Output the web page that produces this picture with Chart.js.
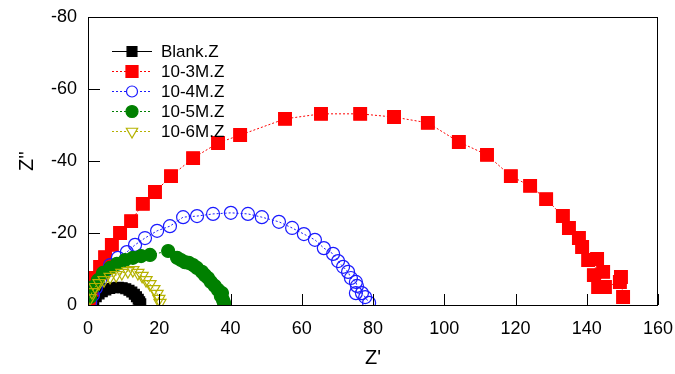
<!DOCTYPE html>
<html>
<head>
<meta charset="utf-8">
<script src="https://cdn.jsdelivr.net/npm/chart.js@4/dist/chart.umd.min.js"></script>
<style>
  html, body { margin: 0; padding: 0; background: #fff; }
  #wrap { width: 675px; height: 374px; }
</style>
</head>
<body>
<div id="wrap"><canvas id="nyquist" width="675" height="374"></canvas></div>
<script>
"use strict";

/* ─── Data (Z' real part, Z'' imaginary part, ohm) ─────────────── */

const X_TICKS = [0, 20, 40, 60, 80, 100, 120, 140, 160];
const Y_TICKS = [-80, -60, -40, -20, 0];

const blankRe = [1.0, 1.6, 2.3, 3.1, 4.0, 5.0, 6.1, 7.3, 8.5, 9.6, 10.6, 11.5, 12.3, 13.0, 13.6, 14.1, 14.5, 14.8];
const blankIm = [-0.6, -1.5, -2.3, -3.1, -3.7, -4.2, -4.6, -4.8, -4.9, -4.8, -4.5, -4.1, -3.6, -3.0, -2.3, -1.6, -0.9, -0.3];

const m3Re = [0.6, 1.1, 2.2, 3.4, 4.8, 6.7, 9.0, 12.1, 15.4, 18.8, 23.3, 29.5, 36.5, 42.7, 55.3, 65.4, 76.4, 85.9,
  95.4, 104.1, 112.0, 118.7, 124.1, 128.6, 133.3, 135.0, 137.8, 138.7, 140.4, 142.9, 142.0, 144.6, 143.2, 145.1,
  149.3, 149.6, 150.2];
const m3Im = [-0.8, -4.2, -7.5, -10.6, -13.3, -16.7, -20.0, -23.3, -28.1, -31.4, -35.8, -40.8, -45.0, -47.2, -51.7,
  -53.1, -53.1, -52.2, -50.6, -45.3, -41.7, -35.8, -33.1, -29.4, -24.7, -21.4, -18.6, -16.1, -12.5, -12.8, -8.3,
  -9.2, -5.0, -5.0, -6.4, -7.8, -2.2];

const m4Re = [0.6, 1.4, 2.2, 3.4, 4.5, 6.2, 8.4, 10.9, 13.2, 16.0, 19.4, 23.0, 26.7, 30.6, 35.1, 40.1, 44.9, 48.8,
  53.6, 57.3, 60.6, 63.7, 66.2, 68.8, 70.2, 71.6, 73.0, 73.8, 75.2, 75.5, 75.2, 76.9, 77.8, 78.9];
const m4Im = [-0.8, -2.8, -4.7, -6.9, -8.9, -11.1, -13.1, -14.7, -16.7, -18.6, -20.6, -21.9, -24.4, -24.7, -25.3,
  -25.6, -25.3, -24.4, -23.1, -21.4, -19.7, -18.1, -15.8, -14.2, -12.2, -10.6, -9.2, -7.5, -6.4, -5.3, -3.3, -3.3,
  -2.2, -0.6];

const m5Re = [0.6, 1.4, 2.8, 4.2, 6.2, 8.1, 10.4, 12.6, 14.9, 17.4, 22.5, 25.0, 26.1, 27.2, 28.3, 29.5, 30.6, 32.0,
  32.8, 33.7, 34.5, 35.6, 36.5, 37.3, 37.6, 37.9, 38.2];
const m5Im = [-2.2, -5.0, -6.9, -8.9, -10.3, -11.4, -12.5, -13.1, -13.6, -13.9, -15.0, -13.1, -12.5, -11.9, -11.7,
  -11.1, -10.3, -9.2, -8.3, -7.5, -6.4, -5.3, -4.2, -2.5, -3.3, -1.4, -0.6];

const m6Re = [0.6, 1.1, 2.0, 3.1, 4.5, 6.2, 7.9, 9.5, 11.2, 12.6, 14.0, 15.2, 16.3, 17.4, 18.5, 19.4, 19.9, 20.2];
const m6Im = [-1.9, -3.6, -5.0, -6.1, -6.9, -7.8, -8.3, -8.9, -9.4, -9.7, -8.9, -8.1, -6.9, -5.8, -4.4, -3.1, -1.7, -0.6];

/* ─── Helpers ──────────────────────────────────────────────────── */

/* Zips two arrays into {x, y} points */
function toPoints(re, im) {
  return re.map(function (v, i) {
    return { x: v, y: im[i] };
  });
}

const FONT = "'Liberation Sans', Arial, sans-serif";

const SERIES = [
  { label: "Blank.Z", re: blankRe, im: blankIm, color: "#000000", fill: "#000000",
    style: "rect", radius: 7, legendRadius: 7, rotation: 0, dash: [] },
  { label: "10-3M.Z", re: m3Re, im: m3Im, color: "#ff0000", fill: "#ff0000",
    style: "rect", radius: 9, legendRadius: 8.5, rotation: 0, dash: [2, 2] },
  { label: "10-4M.Z", re: m4Re, im: m4Im, color: "#1a1aff", fill: "rgba(0,0,0,0)",
    style: "circle", radius: 6.5, legendRadius: 5.5, rotation: 0, dash: [2, 2] },
  { label: "10-5M.Z", re: m5Re, im: m5Im, color: "#008000", fill: "#008000",
    style: "circle", radius: 6.5, legendRadius: 6, rotation: 0, dash: [2, 2] },
  { label: "10-6M.Z", re: m6Re, im: m6Im, color: "#b5b200", fill: "rgba(0,0,0,0)",
    style: "triangle", radius: 7, legendRadius: 6.5, rotation: 180, dash: [2, 2] },
];

/* ─── Plugins ──────────────────────────────────────────────────── */

/* Frame around the plot plus inward-pointing ticks */
const framePlugin = {
  id: "frame",
  afterDatasetsDraw: function (chart) {
    const ctx = chart.ctx;
    const a = chart.chartArea;
    const xs = chart.scales.x;
    const ys = chart.scales.y;
    ctx.save();
    ctx.strokeStyle = "#000";
    ctx.lineWidth = 1;
    ctx.strokeRect(a.left + 0.5, a.top + 0.5, a.right - a.left - 1, a.bottom - a.top);
    ctx.beginPath();
    X_TICKS.forEach(function (v) {
      const px = Math.round(xs.getPixelForValue(v)) + 0.5;
      ctx.moveTo(px, a.bottom);
      ctx.lineTo(px, a.bottom - 11);
    });
    Y_TICKS.forEach(function (v) {
      const py = Math.round(ys.getPixelForValue(v)) + 0.5;
      ctx.moveTo(a.left, py);
      ctx.lineTo(a.left + 12, py);
    });
    ctx.stroke();
    ctx.restore();
  },
};

/* Legend inside the plot: line sample with marker, then label */
const legendPlugin = {
  id: "innerLegend",
  afterDraw: function (chart) {
    const ctx = chart.ctx;
    ctx.save();
    SERIES.forEach(function (s, i) {
      const y = 51 + i * 20;
      ctx.strokeStyle = s.color;
      ctx.lineWidth = 1;
      ctx.setLineDash(s.dash);
      ctx.beginPath();
      ctx.moveTo(112, y + 0.5);
      ctx.lineTo(152, y + 0.5);
      ctx.stroke();
      ctx.setLineDash([]);
      ctx.fillStyle = s.fill.indexOf("rgba") === 0 ? "#fff" : s.fill;
      ctx.strokeStyle = s.color;
      ctx.lineWidth = 1.2;
      Chart.helpers.drawPoint(ctx, {
        pointStyle: s.style,
        radius: s.legendRadius,
        rotation: s.rotation,
        borderWidth: 1.2,
      }, 132, y + 0.5);
      ctx.fillStyle = "#000";
      ctx.font = "17px " + FONT;
      ctx.textBaseline = "middle";
      ctx.fillText(s.label, 161, y + 1.5);
    });
    ctx.restore();
  },
};

/* ─── Chart ────────────────────────────────────────────────────── */

const datasets = SERIES.map(function (s, i) {
  return {
    label: s.label,
    data: toPoints(s.re, s.im),
    showLine: true,
    borderColor: s.color,
    borderWidth: 1,
    borderDash: s.dash,
    pointStyle: s.style,
    pointRadius: s.radius,
    pointRotation: s.rotation,
    pointBackgroundColor: s.fill,
    pointBorderColor: s.color,
    pointBorderWidth: 1.2,
    order: SERIES.length - i,
  };
});

new Chart(document.getElementById("nyquist"), {
  type: "scatter",
  data: { datasets: datasets },
  plugins: [framePlugin, legendPlugin],
  options: {
    responsive: false,
    animation: false,
    layout: { padding: { top: 17, right: 17, left: 0, bottom: 0 } },
    plugins: { legend: { display: false }, tooltip: { enabled: false } },
    scales: {
      x: {
        type: "linear",
        min: 0,
        max: 160,
        afterBuildTicks: function (scale) {
          scale.ticks = X_TICKS.map(function (v) { return { value: v }; });
        },
        afterFit: function (scale) {
          scale.height = 69;
          scale.paddingLeft = 0;
          scale.paddingRight = 0;
        },
        grid: { display: false, drawTicks: false },
        border: { display: false },
        ticks: { color: "#000", padding: 13, font: { family: FONT, size: 18 } },
        title: {
          display: true,
          text: "Z'",
          color: "#000",
          padding: { top: 0, bottom: 4 },
          font: { family: FONT, size: 20 },
        },
      },
      y: {
        type: "linear",
        min: -80,
        max: 0,
        reverse: true,
        afterBuildTicks: function (scale) {
          scale.ticks = Y_TICKS.map(function (v) { return { value: v }; });
        },
        afterFit: function (scale) {
          scale.width = 88;
          scale.paddingTop = 0;
          scale.paddingBottom = 0;
        },
        grid: { display: false, drawTicks: false },
        border: { display: false },
        ticks: { color: "#000", padding: 11, font: { family: FONT, size: 18 } },
        title: {
          display: true,
          text: "Z''",
          color: "#000",
          padding: { top: 15, bottom: 0 },
          font: { family: FONT, size: 20 },
        },
      },
    },
  },
});
</script>
</body>
</html>
